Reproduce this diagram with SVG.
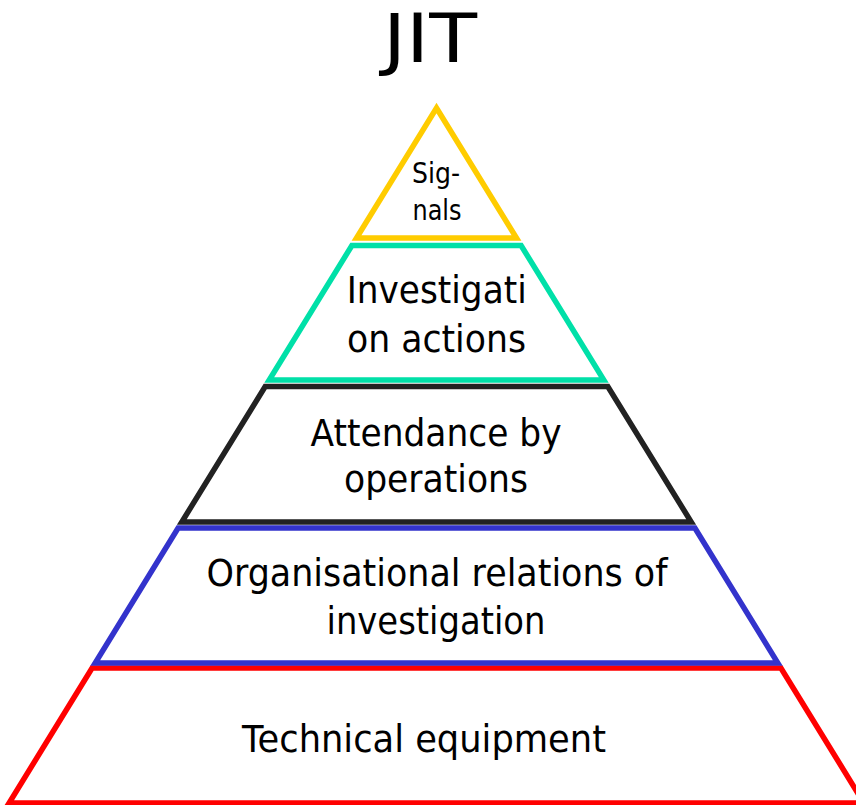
<svg xmlns="http://www.w3.org/2000/svg" width="856" height="805" viewBox="0 0 856 805">
<style>
.lvl{fill:#ffffff;stroke-width:5.5;stroke-linejoin:miter;stroke-miterlimit:10}
.t{font-family:"DejaVu Sans","Liberation Sans",sans-serif;font-size:37px;fill:#000000;text-anchor:middle}
</style>
<rect width="856" height="805" fill="#ffffff"/>
<text x="430" y="62" style="font-family:'DejaVu Sans','Liberation Sans',sans-serif;font-size:68px;fill:#000" text-anchor="middle" textLength="94" lengthAdjust="spacingAndGlyphs">JIT</text>
<g id="level-technical">
<polygon class="lvl" stroke="#ff0000" points="92.1,668 780.9,668 863.9,803 9.1,803"/>
<text class="t" x="424" y="752" textLength="364" lengthAdjust="spacingAndGlyphs">Technical equipment</text>
</g>
<g id="level-organisational">
<polygon class="lvl" stroke="#3333cc" points="178.1,528 694.9,528 777.8,663 95.2,663"/>
<text class="t" x="437" y="586" textLength="461" lengthAdjust="spacingAndGlyphs">Organisational relations of</text>
<text class="t" x="436" y="634" textLength="219" lengthAdjust="spacingAndGlyphs">investigation</text>
</g>
<g id="level-attendance">
<polygon class="lvl" stroke="#222222" points="265.2,386.5 607.8,386.5 691.2,522 181.8,522"/>
<text class="t" x="436" y="446" textLength="251" lengthAdjust="spacingAndGlyphs">Attendance by</text>
<text class="t" x="436" y="492" textLength="184" lengthAdjust="spacingAndGlyphs">operations</text>
</g>
<g id="level-investigation">
<polygon class="lvl" stroke="#00e0a8" points="351.9,245.5 521.1,245.5 603.8,380 269.2,380"/>
<text class="t" x="436.7" y="303" textLength="180" lengthAdjust="spacingAndGlyphs">Investigati</text>
<text class="t" x="436.5" y="352" textLength="179" lengthAdjust="spacingAndGlyphs">on actions</text>
</g>
<g id="level-signals">
<polygon class="lvl" stroke="#ffcc00" points="436.5,108 516.5,238 356.5,238"/>
<text class="t" style="font-size:27.5px" x="436" y="183" textLength="48" lengthAdjust="spacingAndGlyphs">Sig-</text>
<text class="t" style="font-size:27.5px" x="437" y="220" textLength="49" lengthAdjust="spacingAndGlyphs">nals</text>
</g>
<g id="connectors"/>
</svg>
